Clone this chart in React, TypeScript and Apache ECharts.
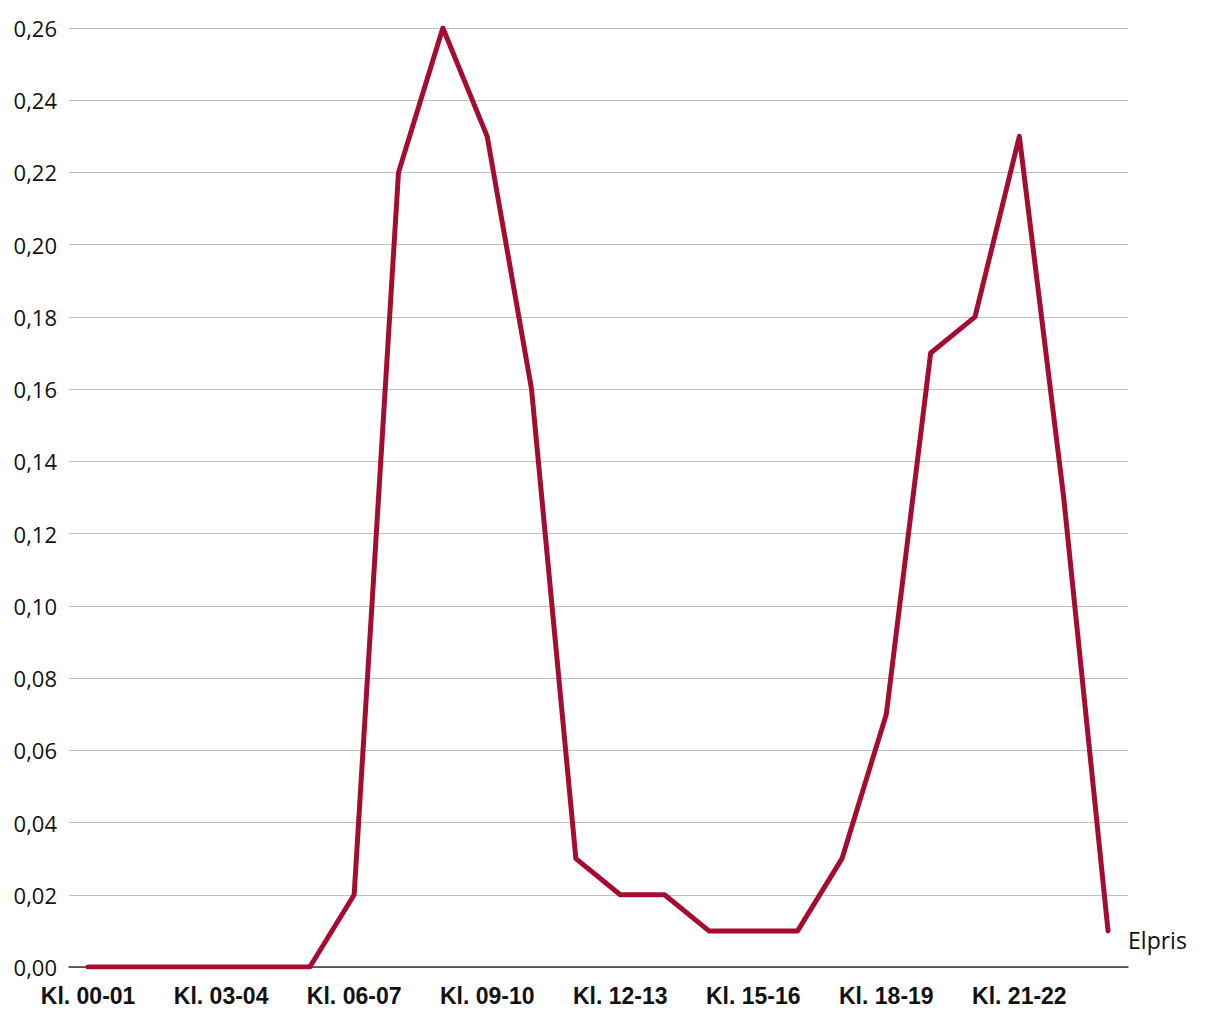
import React, { useEffect, useRef } from "react";
import * as echarts from "echarts";

const categories = [
  "Kl. 00-01", "Kl. 01-02", "Kl. 02-03", "Kl. 03-04", "Kl. 04-05", "Kl. 05-06",
  "Kl. 06-07", "Kl. 07-08", "Kl. 08-09", "Kl. 09-10", "Kl. 10-11", "Kl. 11-12",
  "Kl. 12-13", "Kl. 13-14", "Kl. 14-15", "Kl. 15-16", "Kl. 16-17", "Kl. 17-18",
  "Kl. 18-19", "Kl. 19-20", "Kl. 20-21", "Kl. 21-22", "Kl. 22-23", "Kl. 23-24",
];
const elpris = [
  0, 0, 0, 0, 0, 0, 0.02, 0.22, 0.26, 0.23, 0.16, 0.03,
  0.02, 0.02, 0.01, 0.01, 0.01, 0.03, 0.07, 0.17, 0.18, 0.23, 0.13, 0.01,
];
const seriesName = "Elpris";
const labelIndices = [0, 3, 6, 9, 12, 15, 18, 21];

export default function App() {
  const ref = useRef<HTMLDivElement>(null);
  useEffect(() => {
    if (!ref.current) return;
    const chart = echarts.init(ref.current, null, { renderer: "svg" });
    chart.setOption({
      animation: false,
      grid: { left: 61, right: 84, top: 20, bottom: 45 },
      xAxis: {
        type: "value",
        min: -0.43,
        max: 23.45,
        splitLine: { show: false },
        axisTick: { show: false },
        axisLine: { show: true, lineStyle: { color: "#333", width: 1.5 } },
        axisLabel: {
          customValues: labelIndices,
          formatter: (v: number) => categories[Math.round(v)] ?? "",
          fontFamily: "Liberation Sans, Arial, sans-serif",
          fontWeight: "bold",
          fontSize: 23,
          color: "#111",
          margin: 17,
        },
      },
      yAxis: {
        type: "value",
        min: 0,
        max: 0.26,
        interval: 0.02,
        axisLine: { show: false },
        axisTick: { show: false },
        splitLine: { lineStyle: { color: "#c0c0c0", width: 1.2 } },
        axisLabel: {
          formatter: (v: number) => v.toFixed(2).replace(".", ","),
          fontFamily: "Open Sans, Noto Sans, sans-serif",
          fontSize: 22,
          color: "#111",
          margin: 12,
        },
      },
      series: [
        {
          name: seriesName,
          type: "line",
          data: elpris.map((v, i) => [i, v]),
          symbol: "none",
          lineStyle: { color: "#a50d30", width: 5, cap: "round", join: "round" },
          endLabel: {
            show: true,
            formatter: seriesName,
            fontFamily: "Open Sans, Noto Sans, sans-serif",
            fontSize: 23,
            color: "#111",
            distance: 20,
            offset: [0, 9],
          },
        },
      ],
    });
    return () => chart.dispose();
  }, []);
  return <div ref={ref} style={{ width: 1204, height: 1004 }} />;
}
